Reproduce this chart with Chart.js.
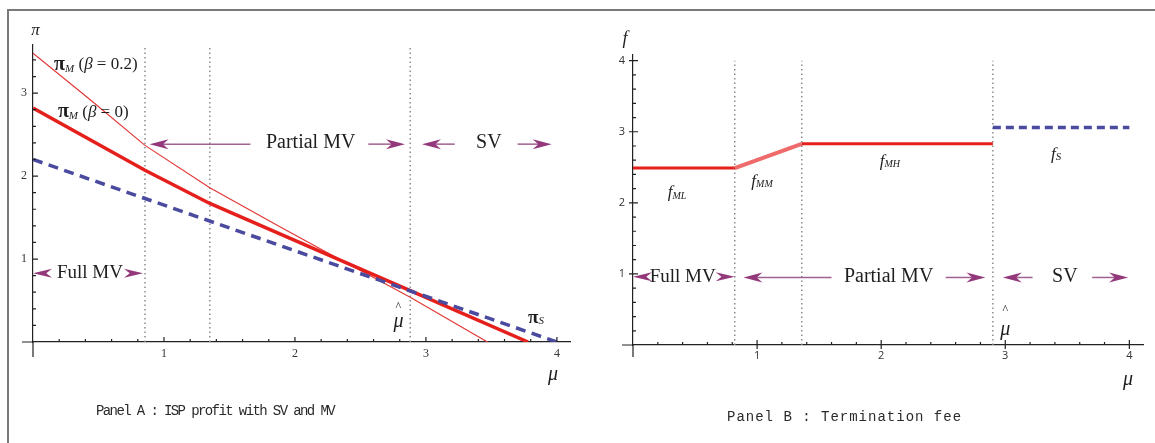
<!DOCTYPE html>
<html>
<head>
<meta charset="utf-8">
<script src="https://cdn.jsdelivr.net/npm/chart.js@4.4.1/dist/chart.umd.min.js"></script>
<style>
  body { margin: 0; background: #fff; }
  #wrap { position: relative; width: 1155px; height: 443px; overflow: hidden; background: #fff; }
  #frame { position: absolute; left: 7px; top: 9px; width: 1200px; height: 500px;
           border-top: 2px solid #7a7a7a; border-left: 2px solid #7a7a7a; }
  canvas { position: absolute; top: 0; }
  #cA { left: 0; }
  #cB { left: 580px; }
  .cap { position: absolute; font-family: 'Liberation Mono', monospace; font-size: 14px;
         color: #2a2a2a; white-space: pre; }
</style>
</head>
<body>
<div id="wrap">
  <div id="frame"></div>
  <canvas id="cA" width="580" height="443"></canvas>
  <canvas id="cB" width="575" height="443"></canvas>
  <div class="cap" style="left:96px;top:403px;letter-spacing:-1.6px">Panel A : ISP profit with SV and MV</div>
  <div class="cap" style="left:727px;top:409px;letter-spacing:1px">Panel B : Termination fee</div>
</div>
<script>
// Panel A: ISP profit
const piM02Mu = [0, 0.43, 0.855, 1.35, 1.885, 2.21, 2.88, 3.47];
const piM02   = [3.48, 2.93, 2.37, 1.86, 1.39, 1.11, 0.54, 0];
const piM0Mu  = [0, 0.855, 1.35, 2.88, 3.78];
const piM0    = [2.82, 2.07, 1.67, 0.62, 0];
const piSMu   = [0, 4.0];
const piS     = [2.2, 0];
const cutsA   = [0.855, 1.35, 2.88];

// Panel B: termination fee
const fMMu  = [0, 0.82, 1.36, 2.9];
const fM    = [2.49, 2.49, 2.83, 2.83];
const fSMu  = [2.9, 4.0];
const fS    = [3.06, 3.06];
const cutsB = [0.82, 1.36, 2.9];

const SERIF = "'Liberation Serif', 'Times New Roman', serif";
const RED = '#e5201c';
const BLUE = '#4a4a9e';
const PURPLE = '#93387b';

const pts = (mu, v) => mu.map((m, i) => ({ x: m, y: v[i] }));

function cutLines(cuts, top) {
  return cuts.map(c => ({
    data: [{ x: c, y: 0 }, { x: c, y: top }],
    borderColor: '#8c8c8c', borderWidth: 1.5, borderDash: [1.5, 3],
    pointRadius: 0, fill: false
  }));
}

function head(ctx, tx, ty, dir, L, H) {
  ctx.beginPath();
  ctx.moveTo(tx, ty);
  ctx.lineTo(tx - dir * L, ty - H / 2);
  ctx.lineTo(tx - dir * L * 0.7, ty);
  ctx.lineTo(tx - dir * L, ty + H / 2);
  ctx.closePath();
  ctx.fill();
}

function rich(ctx, px, py, parts) {
  let w = 0;
  parts.forEach(p => { ctx.font = p[1]; w += ctx.measureText(p[0]).width; });
  let cx = px - w / 2;
  parts.forEach(p => {
    ctx.font = p[1];
    ctx.fillText(p[0], cx, py + (p[2] || 0));
    cx += ctx.measureText(p[0]).width;
  });
}

const decor = {
  id: 'decor',
  afterDatasetsDraw(chart, args, o) {
    const ctx = chart.ctx;
    const X = v => chart.scales.x.getPixelForValue(v);
    const Y = v => chart.scales.y.getPixelForValue(v);
    const x0 = X(0), y0 = Y(0);
    ctx.save();
    // axis stubs and inward ticks
    ctx.strokeStyle = '#222';
    ctx.lineWidth = 1.2;
    ctx.beginPath();
    ctx.moveTo(x0 - o.extL, y0); ctx.lineTo(x0, y0);
    ctx.moveTo(x0, y0); ctx.lineTo(x0, y0 + o.extD);
    for (let k = 1; k <= o.xN; k++) {
      const major = k % 5 === 0, px = X(k * 0.2);
      ctx.moveTo(px, y0 + (major ? o.tickOut : 0));
      ctx.lineTo(px, y0 - (major ? 5 : 3));
    }
    for (let k = 1; k <= o.yN; k++) {
      const major = k % 5 === 0, py = Y(k * 0.2);
      ctx.moveTo(x0 - (major ? o.tickOut : 0), py);
      ctx.lineTo(x0 + (major ? 5 : 3), py);
    }
    ctx.stroke();

    // arrows
    ctx.fillStyle = PURPLE;
    ctx.strokeStyle = '#a0628f';
    ctx.lineWidth = 1.5;
    o.arrows.forEach(a => {
      const x1 = X(a[0]), x2 = X(a[1]), y = Y(a[2]);
      const dir = x2 > x1 ? 1 : -1;
      ctx.beginPath();
      ctx.moveTo(x1, y); ctx.lineTo(x2 - dir * 12, y);
      ctx.stroke();
      head(ctx, x2, y, dir, 19, 10);
    });
    o.heads.forEach(h => head(ctx, X(h[0]), Y(h[1]), h[2], 19, 9));

    // text notes
    ctx.fillStyle = '#1e1e1e';
    ctx.textBaseline = 'middle';
    ctx.textAlign = 'left';
    o.notes.forEach(n => rich(ctx, X(n.x), Y(n.y), n.parts));
    ctx.restore();
  }
};

function axes(xMax, yMax, yW, xH, fontA, yPad, xPad) {
  const hide0 = v => (v === 0 ? '' : v);
  return {
    x: {
      type: 'linear', min: 0, max: xMax,
      grid: { display: false, drawTicks: false },
      border: { display: true, color: '#222', width: 1.2 },
      ticks: { stepSize: 1, includeBounds: false, padding: xPad, color: '#333', font: fontA, callback: hide0 },
      afterFit: s => { s.height = xH; }
    },
    y: {
      type: 'linear', min: 0, max: yMax,
      grid: { display: false, drawTicks: false },
      border: { display: true, color: '#222', width: 1.2 },
      ticks: { stepSize: 1, includeBounds: false, padding: yPad, color: '#333', font: fontA, callback: hide0 },
      afterFit: s => { s.width = yW; }
    }
  };
}

const base = {
  responsive: false, animation: false,
  plugins: { legend: { display: false }, tooltip: { enabled: false } },
  elements: { line: { tension: 0 } }
};

// ---- Panel A ----
new Chart(document.getElementById('cA'), {
  type: 'line',
  data: {
    datasets: [
      { data: pts(piSMu, piS), borderColor: BLUE, borderWidth: 3.5, borderDash: [10, 6.5], pointRadius: 0 },
      { data: pts(piM0Mu, piM0), borderColor: RED, borderWidth: 3.5, pointRadius: 0 },
      { data: pts(piM02Mu, piM02), borderColor: '#e23838', borderWidth: 1.2, pointRadius: 0 },
      ...cutLines(cutsA, 3.58)
    ]
  },
  options: {
    ...base,
    layout: { padding: { left: 0, top: 45, right: 10, bottom: 0 } },
    scales: axes(4.1, 3.58, 33, 101, { family: SERIF, size: 12 }, 6, 5),
    plugins: {
      ...base.plugins,
      decor: {
        extL: 11, extD: 15, xN: 20, yN: 17, tickOut: 0,
        arrows: [[1.66, 0.89, 2.385], [2.56, 2.84, 2.385], [3.22, 2.97, 2.385], [3.70, 3.96, 2.385]],
        heads: [[0.0, 0.83, -1], [0.84, 0.83, 1]],
        notes: [
          { x: 0.02, y: 3.76, parts: [['π', 'italic 17px ' + SERIF]] },
          { x: 0.48, y: 3.34, parts: [['π', 'bold 20px ' + SERIF], ['M', 'italic 11px ' + SERIF, 4], [' (', '17px ' + SERIF], ['β', 'italic 17px ' + SERIF], [' = 0.2)', '17px ' + SERIF]] },
          { x: 0.46, y: 2.77, parts: [['π', 'bold 20px ' + SERIF], ['M', 'italic 11px ' + SERIF, 4], [' (', '17px ' + SERIF], ['β', 'italic 17px ' + SERIF], [' = 0)', '17px ' + SERIF]] },
          { x: 2.12, y: 2.40, parts: [['Partial MV', '20px ' + SERIF]] },
          { x: 3.48, y: 2.40, parts: [['SV', '20px ' + SERIF]] },
          { x: 0.435, y: 0.83, parts: [['Full MV', '19px ' + SERIF]] },
          { x: 2.79, y: 0.42, parts: [['^', '12px ' + SERIF]] },
          { x: 2.79, y: 0.24, parts: [['μ', 'italic 20px ' + SERIF]] },
          { x: 3.84, y: 0.29, parts: [['π', 'bold 19px ' + SERIF], ['S', 'italic 11px ' + SERIF, 3]] },
          { x: 3.97, y: -0.40, parts: [['μ', 'italic 20px ' + SERIF]] }
        ]
      }
    }
  },
  plugins: [decor]
});

// ---- Panel B ----
new Chart(document.getElementById('cB'), {
  type: 'line',
  data: {
    datasets: [
      { data: pts(fSMu, fS), borderColor: BLUE, borderWidth: 3.5, borderDash: [8, 5], pointRadius: 0 },
      {
        data: pts(fMMu, fM), borderColor: RED, borderWidth: 3, pointRadius: 0,
        segment: { borderColor: c => (c.p0DataIndex === 1 ? 'rgba(236,80,80,0.85)' : undefined),
                   borderWidth: c => (c.p0DataIndex === 1 ? 4 : undefined) }
      },
      ...cutLines(cutsB, 4.0)
    ]
  },
  options: {
    ...base,
    layout: { padding: { left: 0, top: 55, right: 12, bottom: 0 } },
    scales: axes(4.11, 4.08, 53, 98, { family: "'Open Sans', sans-serif", size: 11 }, 8, 4),
    plugins: {
      ...base.plugins,
      decor: {
        extL: 11, extD: 12, xN: 20, yN: 20, tickOut: 4,
        arrows: [[1.60, 0.89, 0.95], [2.52, 2.84, 0.95], [3.22, 2.98, 0.95], [3.70, 3.99, 0.95]],
        heads: [[0.0, 0.96, -1], [0.82, 0.96, 1]],
        notes: [
          { x: -0.065, y: 4.30, parts: [['f', 'italic 18px ' + SERIF]] },
          { x: 0.355, y: 2.14, parts: [['f', 'italic 17px ' + SERIF], ['ML', 'italic 10px ' + SERIF, 3]] },
          { x: 1.04, y: 2.30, parts: [['f', 'italic 17px ' + SERIF], ['MM', 'italic 10px ' + SERIF, 3]] },
          { x: 2.07, y: 2.58, parts: [['f', 'italic 17px ' + SERIF], ['MH', 'italic 10px ' + SERIF, 3]] },
          { x: 3.41, y: 2.68, parts: [['f', 'italic 17px ' + SERIF], ['S', 'italic 11px ' + SERIF, 3]] },
          { x: 0.40, y: 0.96, parts: [['Full MV', '19px ' + SERIF]] },
          { x: 2.06, y: 0.96, parts: [['Partial MV', '20px ' + SERIF]] },
          { x: 3.48, y: 0.96, parts: [['SV', '20px ' + SERIF]] },
          { x: 3.0, y: 0.49, parts: [['^', '12px ' + SERIF]] },
          { x: 3.0, y: 0.21, parts: [['μ', 'italic 20px ' + SERIF]] },
          { x: 3.99, y: -0.49, parts: [['μ', 'italic 20px ' + SERIF]] }
        ]
      }
    }
  },
  plugins: [decor]
});
</script>
</body>
</html>
